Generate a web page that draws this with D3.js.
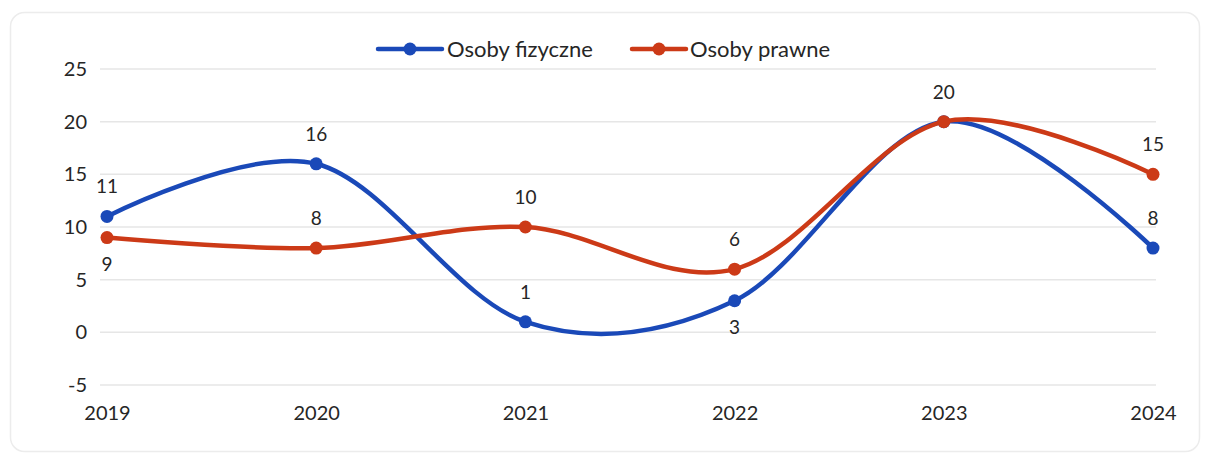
<!DOCTYPE html>
<html>
<head>
<meta charset="utf-8">
<script src="https://cdn.jsdelivr.net/npm/d3@7"></script>
<style>
  html, body { margin: 0; padding: 0; background: #fff; }
  svg { display: block; }
  text { font-family: Lato, "Open Sans", sans-serif; fill: #262626; }
</style>
</head>
<body>
<svg id="chart" width="1206" height="457"></svg>
<script>
// Years on the horizontal axis
const years = ["2019", "2020", "2021", "2022", "2023", "2024"];
// Natural persons
const osobyFizyczne = [11, 16, 1, 3, 20, 8];
// Legal persons
const osobyPrawne = [9, 8, 10, 6, 20, 15];
// Vertical axis ticks
const yTicks = [-5, 0, 5, 10, 15, 20, 25];
// Where each value label sits relative to its point ("up", "down", or "" for none)
const fizyczneLabelSide = ["up", "up", "up", "down", "up", "up"];
const prawneLabelSide = ["down", "up", "up", "up", "", "up"];

const series = [
  { name: "Osoby fizyczne", values: osobyFizyczne, color: "#1a49b8", sides: fizyczneLabelSide },
  { name: "Osoby prawne", values: osobyPrawne, color: "#cc3a17", sides: prawneLabelSide }
];

const svg = d3.select("#chart");

// Faint rounded frame around the chart
svg.append("rect")
  .attr("x", 10.5).attr("y", 12.5)
  .attr("width", 1189).attr("height", 439)
  .attr("rx", 14)
  .attr("fill", "none")
  .attr("stroke", "#ececec")
  .attr("stroke-width", 1.5);

const x = d3.scalePoint().domain(years).range([107, 1153]);
const y = d3.scaleLinear().domain([-5, 25]).range([385, 69]);

// Horizontal gridlines
svg.append("g")
  .selectAll("line")
  .data(yTicks)
  .join("line")
  .attr("x1", 100).attr("x2", 1156)
  .attr("y1", d => y(d)).attr("y2", d => y(d))
  .attr("stroke", "#e6e6e6")
  .attr("stroke-width", 1.5);

// Y axis
const yAxis = svg.append("g")
  .attr("transform", "translate(87,0)")
  .call(d3.axisLeft(y).tickValues(yTicks).tickSize(0).tickPadding(0)
    .tickFormat(d => String(d)));
yAxis.select(".domain").remove();
yAxis.selectAll("text")
  .style("font-family", "Lato, 'Open Sans', sans-serif")
  .style("font-size", "20px")
  .attr("fill", "#262626");

// X axis
const xAxis = svg.append("g")
  .attr("transform", "translate(0,406)")
  .call(d3.axisBottom(x).tickSize(0).tickPadding(0));
xAxis.select(".domain").remove();
xAxis.selectAll("text")
  .style("font-family", "Lato, 'Open Sans', sans-serif")
  .style("font-size", "20px")
  .attr("fill", "#262626");

const line = d3.line()
  .x((d, i) => x(years[i]))
  .y(d => y(d))
  .curve(d3.curveCardinal.tension(0));

series.forEach(s => {
  const g = svg.append("g");
  g.append("path")
    .datum(s.values)
    .attr("d", line)
    .attr("fill", "none")
    .attr("stroke", s.color)
    .attr("stroke-width", 4.5)
    .attr("stroke-linecap", "round");
  g.selectAll("circle")
    .data(s.values)
    .join("circle")
    .attr("cx", (d, i) => x(years[i]))
    .attr("cy", d => y(d))
    .attr("r", 6.5)
    .attr("fill", s.color);
});

// Value labels
series.forEach(s => {
  svg.append("g")
    .selectAll("text")
    .data(s.values.map((v, i) => ({ v, i, side: s.sides[i] })).filter(d => d.side))
    .join("text")
    .attr("x", d => x(years[d.i]))
    .attr("y", d => y(d.v) + (d.side === "up" ? -23 : 33))
    .attr("text-anchor", "middle")
    .style("font-size", "19px")
    .text(d => d.v);
});

// Legend
const legendItems = [
  { s: series[0], x0: 378, x1: 442, tx: 447 },
  { s: series[1], x0: 632, x1: 686, tx: 690 }
];
const legend = svg.append("g");
legendItems.forEach(item => {
  legend.append("line")
    .attr("x1", item.x0).attr("x2", item.x1)
    .attr("y1", 49).attr("y2", 49)
    .attr("stroke", item.s.color)
    .attr("stroke-width", 4.5)
    .attr("stroke-linecap", "round");
  legend.append("circle")
    .attr("cx", (item.x0 + item.x1) / 2).attr("cy", 49)
    .attr("r", 6.5)
    .attr("fill", item.s.color);
  legend.append("text")
    .attr("x", item.tx).attr("y", 57)
    .style("font-size", "22px")
    .text(item.s.name);
});
</script>
</body>
</html>
